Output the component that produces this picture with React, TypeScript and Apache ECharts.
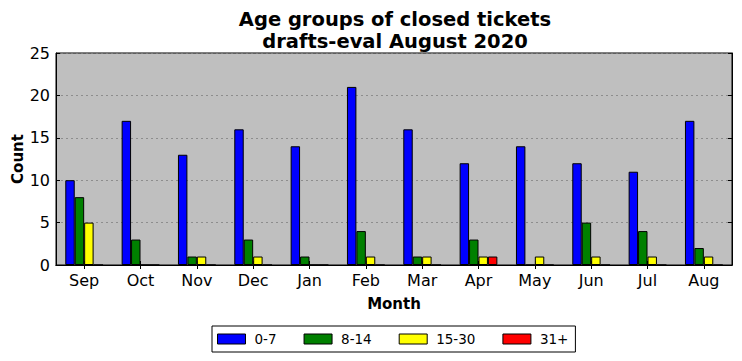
import React, { useEffect, useRef } from "react";
import * as echarts from "echarts";

const months = ["Sep", "Oct", "Nov", "Dec", "Jan", "Feb", "Mar", "Apr", "May", "Jun", "Jul", "Aug"];
const seriesNames = ["0-7", "8-14", "15-30", "31+"];
const age0to7 = [10, 17, 13, 16, 14, 21, 16, 12, 14, 12, 11, 17];
const age8to14 = [8, 3, 1, 3, 1, 4, 1, 3, 0, 5, 4, 2];
const age15to30 = [5, 0, 1, 1, 0, 1, 1, 1, 1, 1, 1, 1];
const age31plus = [0, 0, 0, 0, 0, 0, 0, 1, 0, 0, 0, 0];
const colors = ["#0000ff", "#008000", "#ffff00", "#ff0000"];

const FONT = "DejaVu Sans";

export default function App() {
  const ref = useRef<HTMLDivElement>(null);
  useEffect(() => {
    const chart = echarts.init(ref.current!, undefined, { renderer: "svg" });
    const data = [age0to7, age8to14, age15to30, age31plus];
    chart.setOption({
      animation: false,
      backgroundColor: "#ffffff",
      textStyle: { fontFamily: FONT },
      title: {
        text: "Age groups of closed tickets\ndrafts-eval August 2020",
        left: 390,
        textAlign: "center",
        top: 3,
        textStyle: { fontFamily: FONT, fontSize: 19.5, fontWeight: "bold", color: "#000", lineHeight: 22.5 },
      },
      grid: {
        left: 56,
        right: 10,
        top: 53,
        bottom: 96,
        show: true,
        outerBoundsMode: "none",
        containLabel: false,
        backgroundColor: "#bfbfbf",
        borderColor: "#000",
        borderWidth: 1,
      },
      legend: {
        data: seriesNames,
        top: 326,
        left: 212,
        itemWidth: 28,
        itemHeight: 10,
        itemGap: 27,
        borderColor: "#000",
        borderWidth: 1,
        borderRadius: 0,
        padding: [6, 7, 6, 5],
        icon: "rect",
        textStyle: { fontFamily: FONT, fontSize: 13.5, color: "#000", padding: [0, 0, 0, 4] },
        itemStyle: { borderColor: "#000", borderWidth: 1 },
      },
      xAxis: [
        {
          type: "category",
          data: months,
          name: "Month",
          nameLocation: "middle",
          nameGap: 31,
          nameMoveOverlap: false,
          nameTextStyle: { fontFamily: FONT, fontSize: 15, fontWeight: "bold", color: "#000" },
          axisLine: { show: true, lineStyle: { color: "#000" } },
          axisTick: { show: true, inside: true, alignWithLabel: true, length: 4, lineStyle: { color: "#000" } },
          axisLabel: { fontFamily: FONT, fontSize: 16, color: "#000", margin: 7 },
          splitLine: { show: false },
        },
        {
          type: "category",
          data: months,
          position: "top",
          axisLine: { show: true, lineStyle: { color: "#000" } },
          axisTick: { show: true, inside: true, alignWithLabel: true, length: 4, lineStyle: { color: "#000" } },
          axisLabel: { show: false },
          splitLine: { show: false },
        },
      ],
      yAxis: [
        {
          type: "value",
          min: 0,
          max: 25,
          interval: 5,
          name: "Count",
          nameLocation: "middle",
          nameGap: 31,
          nameMoveOverlap: false,
          nameTextStyle: { fontFamily: FONT, fontSize: 15, fontWeight: "bold", color: "#000" },
          axisLine: { show: true, lineStyle: { color: "#000" } },
          axisTick: { show: true, inside: true, length: 4, lineStyle: { color: "#000" } },
          axisLabel: { fontFamily: FONT, fontSize: 16, color: "#000", margin: 6 },
          splitLine: { show: true, lineStyle: { color: "#808080", type: [2, 3], width: 0.8 } },
        },
        {
          type: "value",
          min: 0,
          max: 25,
          interval: 5,
          position: "right",
          axisLine: { show: true, lineStyle: { color: "#000" } },
          axisTick: { show: true, inside: true, length: 4, lineStyle: { color: "#000" } },
          axisLabel: { show: false },
          splitLine: { show: false },
        },
      ],
      series: seriesNames.map((name, i) => ({
        name,
        type: "bar",
        data: data[i],
        xAxisIndex: 0,
        yAxisIndex: 0,
        barGap: "0%",
        barCategoryGap: "33%",
        itemStyle: { color: colors[i], borderColor: "#000", borderWidth: 1 },
      })),
    });
    return () => chart.dispose();
  }, []);
  return <div ref={ref} style={{ width: 742, height: 361, position: "absolute", left: 0, top: 0 }} />;
}
